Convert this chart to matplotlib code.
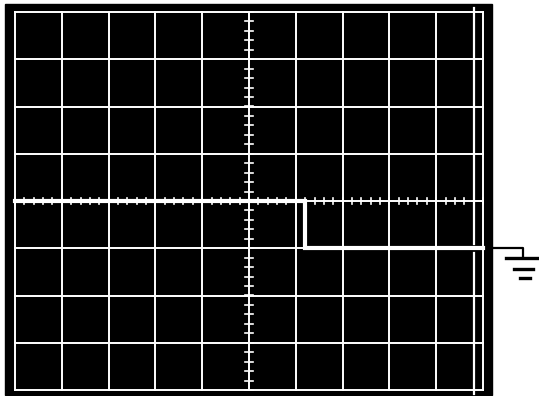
import numpy as np
from matplotlib import pyplot as plt
from matplotlib.patches import Rectangle

# Scope screen: 10 x 8 divisions, trace values in divisions
n_xdiv = 10
n_ydiv = 8
trace_x = [-5.0, 1.2, 1.2, 5.0]
trace_y = [0.0, 0.0, -1.0, -1.0]
cursor_x = 4.8
ground_level = -1.0

# pixel layout of the reference (px per division, centre)
sx, sy = 46.8, 47.25
cx, cy = 249, 201
W, H = 539, 396

fig = plt.figure(figsize=(W / 100, H / 100), dpi=100)
ax = fig.add_axes([0, 0, 1, 1])
ax.set_xlim(-cx / sx, (W - cx) / sx)
ax.set_ylim(-(H - cy) / sy, cy / sy)
ax.axis('off')

# black screen
x0, x1 = (5 - cx) / sx, (492 - cx) / sx
y0, y1 = -(395 - cy) / sy, (cy - 4) / sy
ax.add_patch(Rectangle((x0, y0), x1 - x0, y1 - y0, color='black', zorder=0))

# graticule
for gx in np.arange(-n_xdiv / 2, n_xdiv / 2 + 1):
    ax.plot([gx, gx], [-n_ydiv / 2, n_ydiv / 2], color='white', lw=1.4, zorder=1)
for gy in np.arange(-n_ydiv / 2, n_ydiv / 2 + 1):
    ax.plot([-n_xdiv / 2, n_xdiv / 2], [gy, gy], color='white', lw=1.4, zorder=1)

# minor ticks on the centre lines
for t in np.arange(-n_xdiv / 2, n_xdiv / 2 + 0.01, 0.2):
    ax.plot([t, t], [-0.07, 0.07], color='white', lw=1.2, zorder=1)
for t in np.arange(-n_ydiv / 2, n_ydiv / 2 + 0.01, 0.2):
    ax.plot([-0.09, 0.09], [t, t], color='white', lw=1.2, zorder=1)

# cursor line near the right edge (gap around trace)
ax.plot([cursor_x, cursor_x], [ground_level + 0.1, 4.08], color='white', lw=1.6, zorder=1)
ax.plot([cursor_x, cursor_x], [-4.08, ground_level - 0.1], color='white', lw=1.6, zorder=1)

# trace
ax.plot(trace_x, trace_y, color='white', lw=3.0, zorder=2, solid_joinstyle='miter')

# ground symbol outside the screen
gx0 = (492 - cx) / sx
gx1 = (523 - cx) / sx
gy_top = -(258 - cy) / sy
ax.plot([gx0, gx1, gx1], [ground_level, ground_level, gy_top], color='black', lw=1.6)
for (a, b, yy) in [(506, 539, 258), (514, 533, 269), (520, 530, 278)]:
    ax.plot([(a - cx) / sx, (b - cx) / sx], [-(yy - cy) / sy] * 2, color='black', lw=2.4)

fig.savefig('out.png', dpi=100, facecolor='white')
